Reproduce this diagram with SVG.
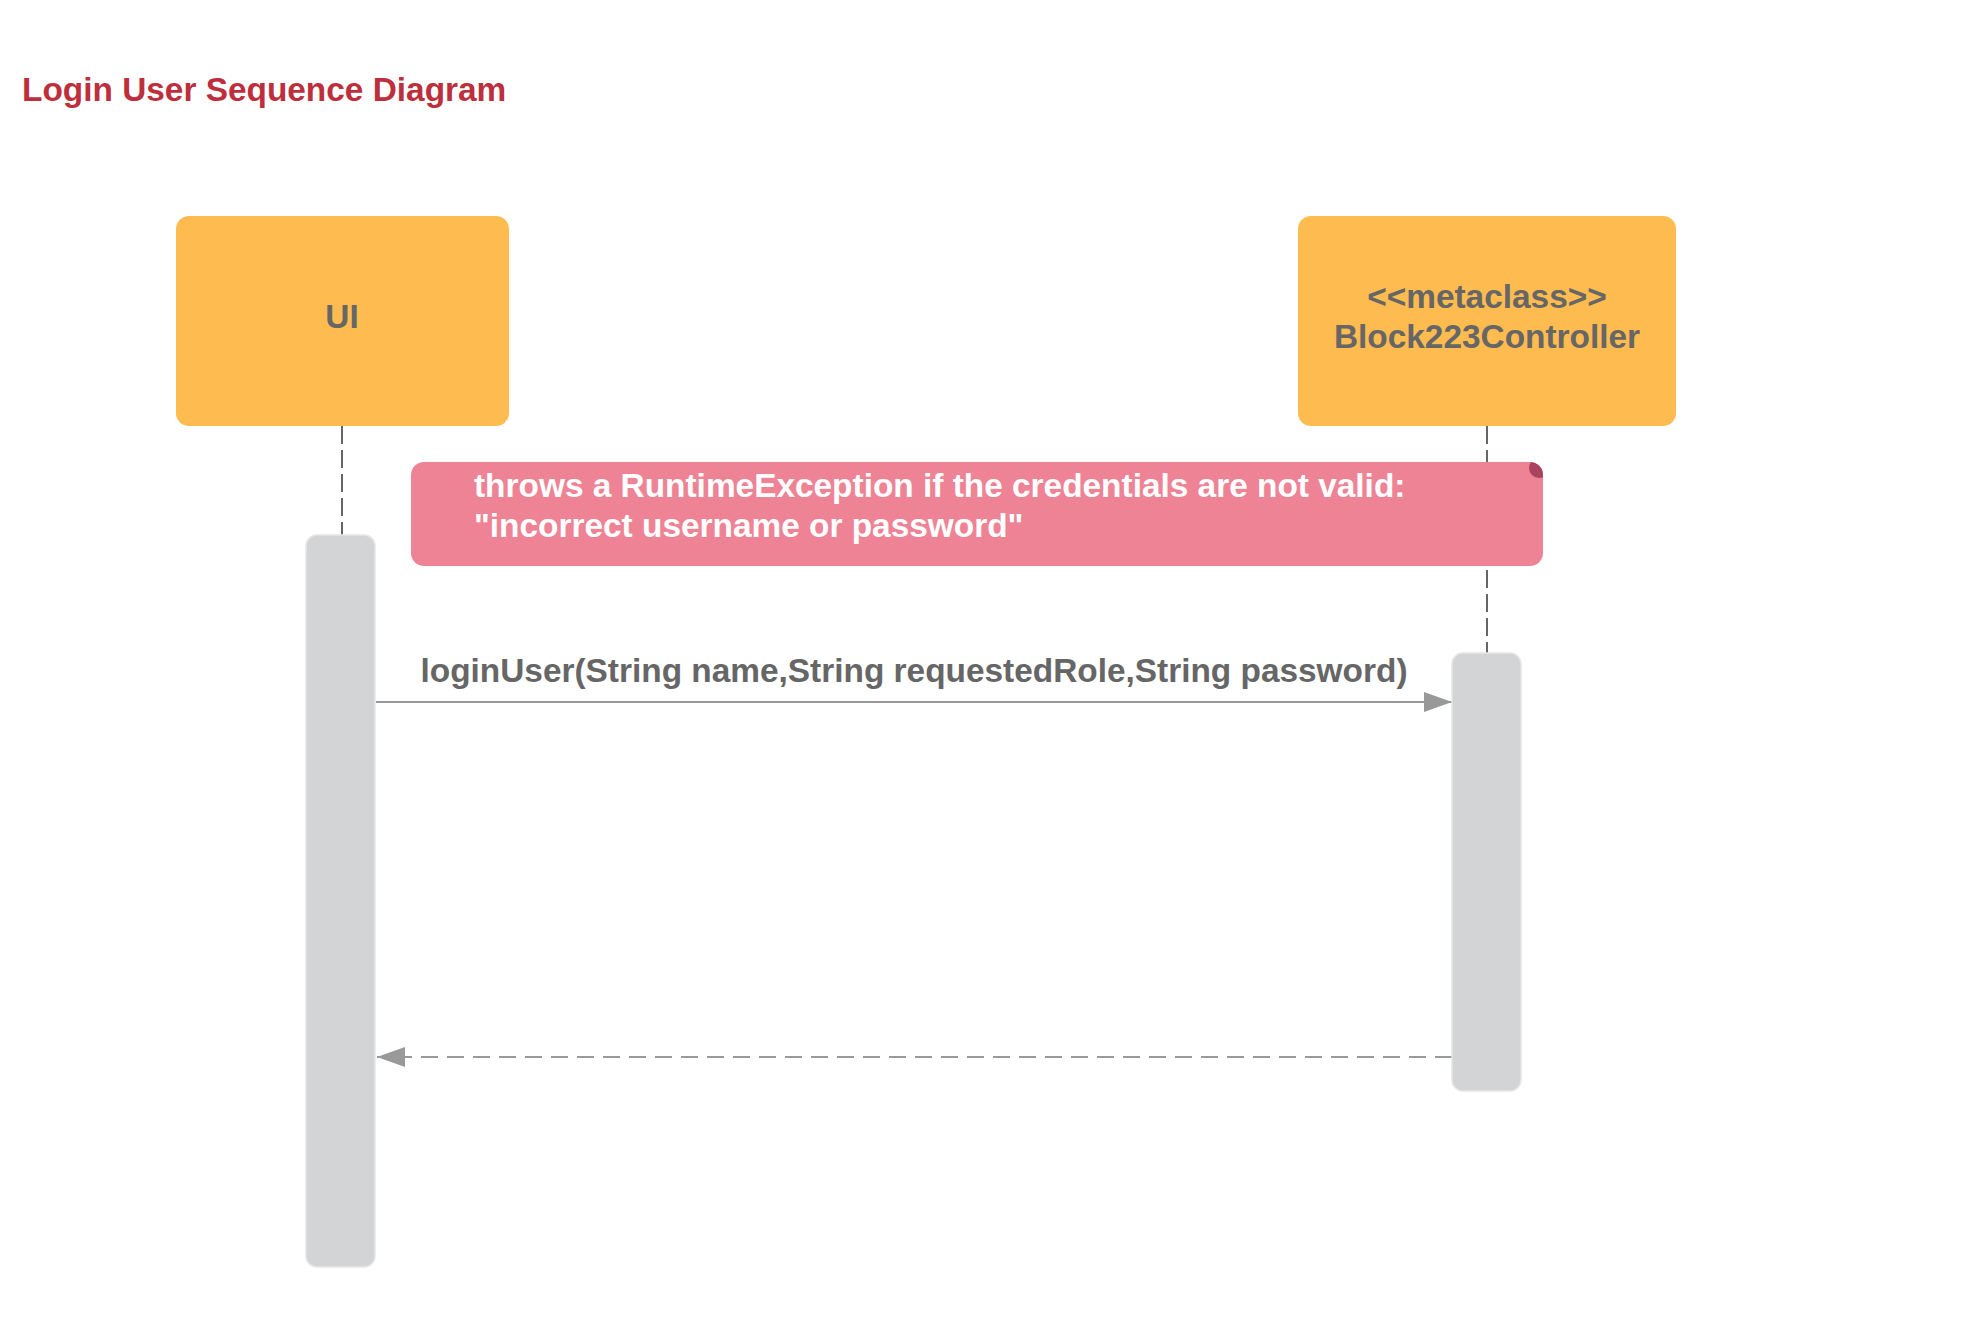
<svg xmlns="http://www.w3.org/2000/svg" width="1975" height="1318" viewBox="0 0 1975 1318">
<style>
.t{font-family:"Liberation Sans",Arial,sans-serif;font-weight:bold;font-size:33.4px}
.head{fill:#fdbb50}
.htxt{fill:#666666}
.bar{fill:#d3d4d6;stroke:#e6e6e6;stroke-width:1.5}
.life{stroke:#666666;stroke-width:2;stroke-dasharray:18 6;fill:none}
.msg{stroke:#999999;stroke-width:2.2;fill:none}
</style>
<defs>
<marker id="ah" markerWidth="30" markerHeight="22" refX="28" refY="10" orient="auto" markerUnits="userSpaceOnUse">
<path d="M0,0 L28,10 L0,20 Z" fill="#999999"/>
</marker>
<clipPath id="nclip"><rect x="411" y="462" width="1132" height="104" rx="13"/></clipPath>
</defs>
<rect width="1975" height="1318" fill="#ffffff"/>
<text class="t" x="22" y="101" fill="#be2f3d">Login User Sequence Diagram</text>
<g id="connectors">
<line class="life" x1="342" y1="426" x2="342" y2="535"/>
<line class="life" x1="1487" y1="426" x2="1487" y2="653"/>
<line class="msg" x1="376" y1="702" x2="1452" y2="702" marker-end="url(#ah)"/>
<text class="t htxt" x="914" y="682" text-anchor="middle">loginUser(String name,String requestedRole,String password)</text>
<line class="msg" x1="1452" y1="1057" x2="377" y2="1057" stroke-dasharray="17 9" marker-end="url(#ah)"/>
</g>
<g id="ui">
<rect class="head" x="176" y="216" width="333" height="210" rx="13"/>
<text class="t htxt" x="342" y="328" text-anchor="middle">UI</text>
</g>
<g id="controller">
<rect class="head" x="1298" y="216" width="378" height="210" rx="13"/>
<text class="t htxt" x="1487" y="308" text-anchor="middle">&lt;&lt;metaclass&gt;&gt;</text>
<text class="t htxt" x="1487" y="348" text-anchor="middle">Block223Controller</text>
</g>
<g id="ui-activation">
<rect class="bar" x="306" y="535" width="69" height="732" rx="11"/>
</g>
<g id="controller-activation">
<rect class="bar" x="1452" y="653" width="69" height="438" rx="11"/>
</g>
<g id="note">
<rect x="411" y="462" width="1132" height="104" rx="13" fill="#ef8396"/>
<circle cx="1539" cy="468" r="10" fill="#a9435f" clip-path="url(#nclip)"/>
<text class="t" x="474" y="497" fill="#ffffff">throws a RuntimeException if the credentials are not valid:</text>
<text class="t" x="474" y="537" fill="#ffffff">"incorrect username or password"</text>
</g>
</svg>
